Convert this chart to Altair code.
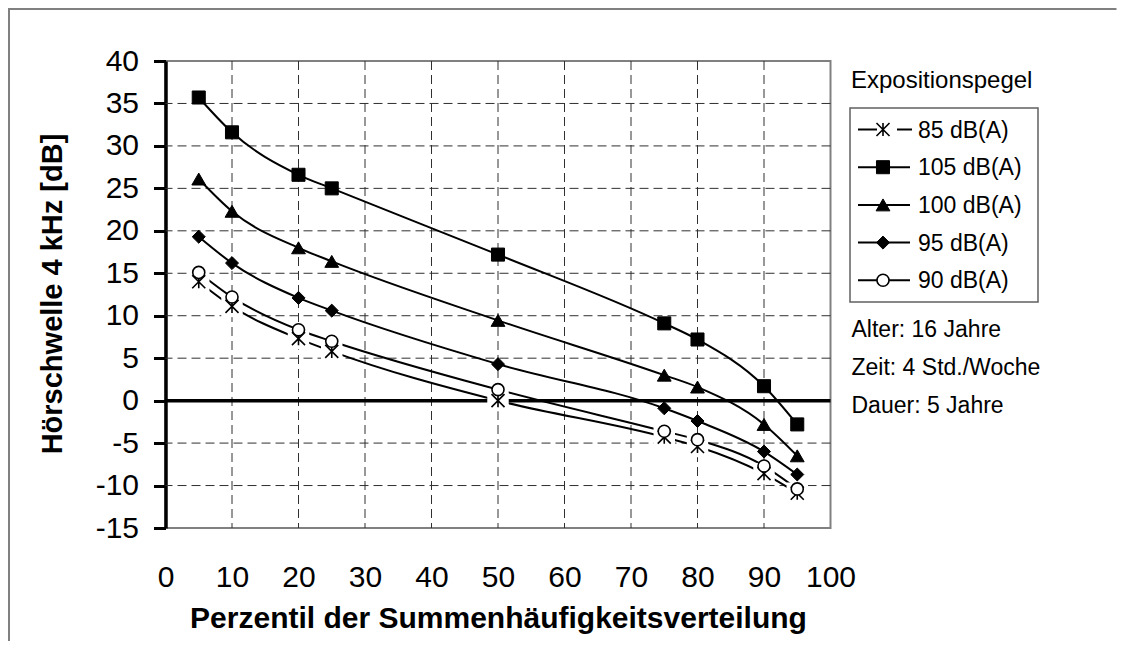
import altair as alt
import pandas as pd

# ---------------- data ----------------
percentiles = [5, 10, 20, 25, 50, 75, 80, 90, 95]
level_85 = [14.0, 11.1, 7.3, 5.8, 0.0, -4.3, -5.4, -8.6, -10.9]
level_90 = [15.1, 12.2, 8.35, 7.0, 1.3, -3.6, -4.6, -7.7, -10.4]
level_95 = [19.3, 16.2, 12.1, 10.6, 4.3, -0.9, -2.4, -6.0, -8.7]
level_100 = [26.1, 22.3, 18.0, 16.4, 9.45, 3.0, 1.6, -2.8, -6.5]
level_105 = [35.7, 31.6, 26.6, 25.0, 17.2, 9.1, 7.2, 1.7, -2.8]

series_names = ["85 dB(A)", "105 dB(A)", "100 dB(A)", "95 dB(A)", "90 dB(A)"]
series_values = [level_85, level_105, level_100, level_95, level_90]

x_ticks = list(range(0, 101, 10))
y_ticks = list(range(-15, 41, 5))
grid_x = list(range(10, 100, 10))
grid_y = [-10, -5, 5, 10, 15, 20, 25, 30, 35]
zero_line = [0]

legend_title = "Expositionspegel"
notes = ["Alter: 16 Jahre", "Zeit: 4 Std./Woche", "Dauer: 5 Jahre"]
x_title = "Perzentil der Summenhäufigkeitsverteilung"
y_title = "Hörschwelle 4 kHz [dB]"

rows = []
for name, vals in zip(series_names, series_values):
    for p, v in zip(percentiles, vals):
        rows.append({"series": name, "p": p, "v": v})
df = pd.DataFrame(rows)

FONT = "Liberation Sans"
W, H = 665, 467
xs = alt.Scale(domain=[0, 100], nice=False, zero=False)
ys = alt.Scale(domain=[-15, 40], nice=False, zero=False)

x_axis = alt.Axis(
    values=x_ticks, domain=False, ticks=False, tickSize=0, grid=False,
    labelFont=FONT, labelFontSize=30, labelColor="black", labelPadding=58, labelBaseline="alphabetic",
    labelFlush=False, labelOverlap=False,
    title=x_title, titleFont=FONT, titleFontSize=30, titleFontWeight="bold", titleColor="black",
    titleY=99, titleBaseline="alphabetic",
)
y_axis = alt.Axis(
    values=y_ticks, grid=False, domainColor="black", domainWidth=3.5,
    tickColor="black", tickWidth=3, tickSize=12,
    labelFont=FONT, labelFontSize=30, labelColor="black", labelPadding=15,
    labelExpr="'' + datum.value", labelFlush=False, labelOverlap=False,
    title=y_title, titleFont=FONT, titleFontSize=29, titleFontWeight="bold", titleColor="black",
    titleAngle=270, titleX=-113, titleY=H / 2 - 1, titleAlign="center", titleBaseline="middle",
)


def X(field):
    return alt.X(field, scale=xs, axis=x_axis)


def Y(field):
    return alt.Y(field, scale=ys, axis=y_axis)


ASTER = "M-1,-1L1,1M1,-1L-1,1M0,-1L0,1"
styles = {
    "85 dB(A)": dict(shape=ASTER, filled=False, color="black", strokeWidth=1.6, size=170),
    "105 dB(A)": dict(shape="square", filled=True, fill="black", stroke="black", strokeWidth=1, size=170),
    "100 dB(A)": dict(shape="triangle-up", filled=True, fill="black", stroke="black", strokeWidth=1, size=190),
    "95 dB(A)": dict(shape="diamond", filled=True, fill="black", stroke="black", strokeWidth=1, size=170),
    "90 dB(A)": dict(shape="circle", filled=True, fill="white", stroke="black", strokeWidth=1.6, size=145),
}

layers = []

# outer frame (only left and top edges are visible in the reference) as thin filled bars
frame = alt.Chart(pd.DataFrame({"a": [0]}))
layers.append(frame.mark_rect(color="#808080", strokeWidth=0).encode(
    x=alt.value(-157.5), x2=alt.value(951), y=alt.value(-53), y2=alt.value(-51)))
layers.append(frame.mark_rect(color="#808080", strokeWidth=0).encode(
    x=alt.value(-157.5), x2=alt.value(-155.5), y=alt.value(-53), y2=alt.value(580)))

# grid lines
layers.append(
    alt.Chart(pd.DataFrame({"p": grid_x})).mark_rule(color="#303030", strokeWidth=1, strokeDash=[9, 5]).encode(
        x=X("p:Q")
    )
)
layers.append(
    alt.Chart(pd.DataFrame({"v": grid_y})).mark_rule(color="#303030", strokeWidth=1, strokeDash=[9, 5]).encode(
        y=Y("v:Q")
    )
)
# zero line
layers.append(
    alt.Chart(pd.DataFrame({"v": zero_line})).mark_rule(color="black", strokeWidth=3.5).encode(
        y=Y("v:Q")
    )
)

# series lines
layers.append(
    alt.Chart(df).mark_line(interpolate="monotone", color="black", strokeWidth=2).encode(
        x=X("p:Q"), y=Y("v:Q"), detail="series:N",
    )
)
# white halo behind the asterisk markers
layers.append(
    alt.Chart(df).transform_filter(alt.datum.series == "85 dB(A)").mark_square(size=460, color="white", opacity=1).encode(
        x=X("p:Q"), y=Y("v:Q")
    )
)
# markers
for name in series_names:
    layers.append(
        alt.Chart(df).transform_filter(alt.datum.series == name).mark_point(opacity=1, **styles[name]).encode(
            x=X("p:Q"), y=Y("v:Q")
        )
    )

# ---------------- manual legend ----------------
LX0, LX1, LMK, LTX = 692.5, 744.5, 717.5, 752.5
ROW0, STEP = 68.5, 37.7
layers.append(
    alt.Chart(pd.DataFrame({"a": [0]})).mark_rect(fill="transparent", stroke="#606060", strokeWidth=1.5).encode(
        x=alt.value(684.5), x2=alt.value(872.5), y=alt.value(47), y2=alt.value(241)
    )
)
layers.append(
    alt.Chart(pd.DataFrame({"label": [legend_title]})).mark_text(
        align="left", baseline="alphabetic", font=FONT, fontSize=24, color="black"
    ).encode(x=alt.value(685.5), y=alt.value(26.7), text="label:N")
)
for i, name in enumerate(series_names):
    cy = ROW0 + i * STEP
    one = alt.Chart(pd.DataFrame({"label": [name]}))
    if name == "85 dB(A)":
        segs = [(LX0, LMK - 6), (LMK + 14, LX1 + 2)]
    else:
        segs = [(LX0, LX1)]
    for a, b in segs:
        layers.append(one.mark_rule(color="black", strokeWidth=2).encode(
            x=alt.value(a), x2=alt.value(b), y=alt.value(cy), y2=alt.value(cy)))
    layers.append(one.mark_point(opacity=1, **styles[name]).encode(x=alt.value(LMK), y=alt.value(cy)))
    layers.append(one.mark_text(align="left", baseline="alphabetic", font=FONT, fontSize=23, color="black").encode(
        x=alt.value(LTX), y=alt.value(cy + 8), text="label:N"))

for j, note in enumerate(notes):
    layers.append(
        alt.Chart(pd.DataFrame({"label": [note]})).mark_text(
            align="left", baseline="alphabetic", font=FONT, fontSize=23, color="black"
        ).encode(x=alt.value(686), y=alt.value(275.7 + j * 38.2), text="label:N")
    )

chart = alt.layer(*layers).properties(
    width=W, height=H,
    padding={"left": 157.5, "top": 53, "right": 286.5, "bottom": 121},
    autosize=alt.AutoSizeParams(type="none"),
    background="white",
).configure_view(stroke="#808080", strokeWidth=2)

chart.save("out.html", embed_options={"renderer": "svg", "actions": False})
